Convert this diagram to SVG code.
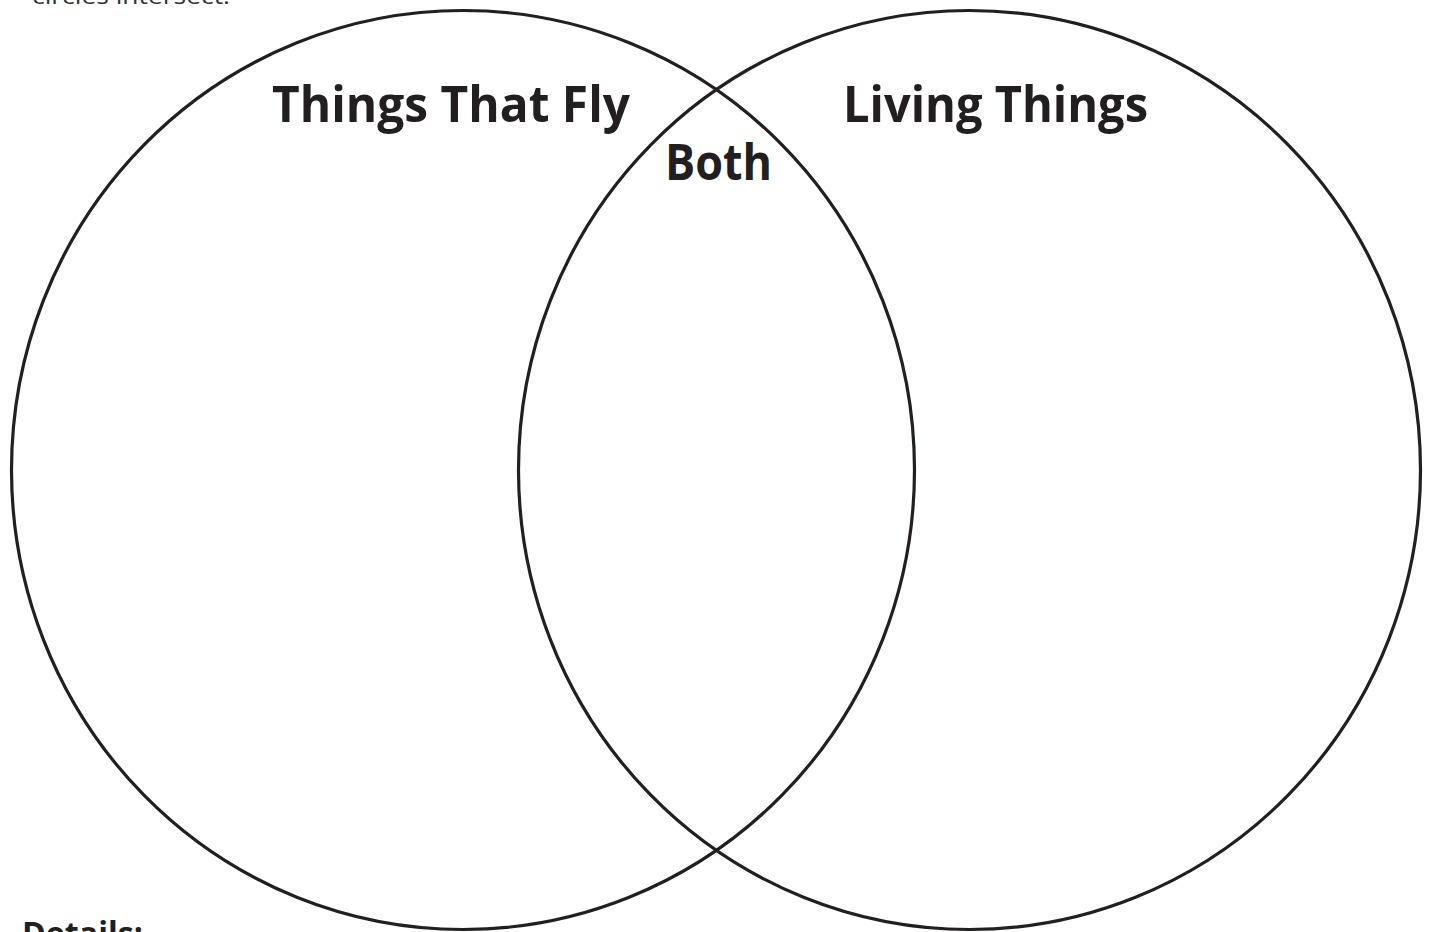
<svg xmlns="http://www.w3.org/2000/svg" width="1432" height="932" viewBox="0 0 1432 932">
<style>
.c{fill:none;stroke:#231f20;stroke-width:3.2}
.t{font-family:"Open Sans","Liberation Sans",sans-serif;font-weight:bold;fill:#231f20}
.s{font-family:"Open Sans","Liberation Sans",sans-serif;fill:#333333}
</style>
<rect width="1432" height="932" fill="#ffffff"/>
<text class="s" x="32" y="4" font-size="22" textLength="198" lengthAdjust="spacingAndGlyphs">circles intersect.</text>
<g id="left-circle">
<ellipse class="c" cx="463" cy="470" rx="451.5" ry="459.5"/>
</g>
<g id="right-circle">
<ellipse class="c" cx="969.5" cy="470" rx="451" ry="459.5"/>
</g>
<g id="label-fly">
<text class="t" x="272" y="122" font-size="50" textLength="358" lengthAdjust="spacingAndGlyphs">Things That Fly</text>
</g>
<g id="label-both">
<text class="t" x="665" y="180" font-size="50" textLength="107" lengthAdjust="spacingAndGlyphs">Both</text>
</g>
<g id="label-living">
<text class="t" x="843" y="122" font-size="50" textLength="305" lengthAdjust="spacingAndGlyphs">Living Things</text>
</g>
<g id="connectors"></g>
<text class="t" x="22" y="945" font-size="32" textLength="121" lengthAdjust="spacingAndGlyphs">Details:</text>
</svg>
